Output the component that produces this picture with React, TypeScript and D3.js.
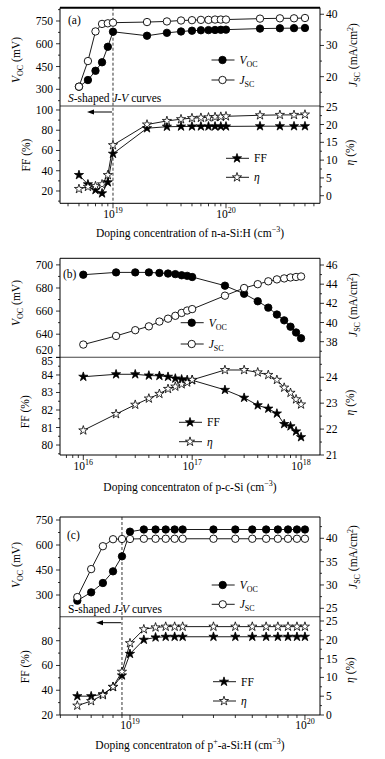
import React from "react";
import * as d3 from "d3";

// (a) doping of n-a-Si:H
const dopingA = [5e18, 6e18, 7e18, 8e18, 9e18, 1e19, 2e19, 3e19, 4e19, 5e19, 6e19, 7e19, 8e19, 9e19, 1e20, 2e20, 3e20, 4e20, 5e20];
const vocA = [317, 361, 422, 478, 580, 679, 653, 672, 681, 686, 689, 690, 691, 692, 693, 700, 702, 703, 704];
const jscA = [16.8, 25.0, 34.5, 36.9, 37.1, 37.3, 37.5, 37.7, 38.0, 38.1, 38.2, 38.2, 38.3, 38.3, 38.3, 38.6, 38.7, 38.7, 38.8];
const ffA = [35.8, 26.6, 21.0, 17.7, 28.6, 56.8, 82.0, 83.5, 83.7, 83.8, 83.8, 83.8, 83.8, 83.8, 83.8, 84.0, 84.0, 84.0, 84.0];
const etaA = [1.9, 2.5, 2.7, 3.2, 5.8, 14.2, 20.0, 21.0, 21.5, 21.8, 21.9, 22.0, 22.1, 22.2, 22.3, 22.6, 22.7, 22.7, 22.8];

// (b) doping of p-c-Si
const dopingB = [1e16, 2e16, 3e16, 4e16, 5e16, 6e16, 7e16, 8e16, 9e16, 1e17, 2e17, 3e17, 4e17, 5e17, 6e17, 7e17, 8e17, 9e17, 1e18];
const vocB = [691.5, 693.5, 693.5, 693.5, 693, 692.5, 692, 691, 690.5, 689.5, 682, 675, 668.5, 663, 657, 652, 646.5, 641.5, 636.5];
const jscB = [37.7, 38.6, 39.2, 39.6, 40.1, 40.4, 40.7, 41.0, 41.25, 41.4, 42.8, 43.6, 44.0, 44.3, 44.5, 44.6, 44.7, 44.75, 44.8];
const ffB = [83.9, 84.04, 84.04, 83.97, 83.95, 83.9, 83.8, 83.75, 83.72, 83.7, 83.15, 82.7, 82.27, 82.08, 81.8, 81.2, 81.07, 80.78, 80.45];
const etaB = [21.95, 22.58, 22.94, 23.18, 23.36, 23.55, 23.64, 23.73, 23.8, 23.9, 24.28, 24.28, 24.19, 24.09, 23.9, 23.6, 23.4, 23.15, 22.95];

// (c) doping of p+-a-Si:H
const dopingC = [5e18, 6e18, 7e18, 8e18, 9e18, 1e19, 1.2e19, 1.4e19, 1.6e19, 1.8e19, 2e19, 3e19, 4e19, 5e19, 6e19, 7e19, 8e19, 9e19, 1e20];
const vocC = [266, 316, 372, 442, 532, 680, 693, 693, 693, 693, 693, 693, 693, 693, 693, 693, 693, 693, 693];
const jscC = [27.4, 33.4, 38.3, 39.8, 39.85, 39.85, 39.9, 39.9, 39.9, 39.9, 39.9, 39.9, 39.9, 39.9, 39.9, 39.9, 39.9, 39.9, 39.9];
const ffC = [35.2, 35.2, 36.8, 42.6, 52.0, 69.4, 80.8, 82.7, 83.2, 83.2, 83.2, 83.2, 83.2, 83.2, 83.2, 83.2, 83.2, 83.2, 83.2];
const etaC = [2.5, 3.7, 5.3, 7.5, 11.5, 19.1, 22.8, 23.3, 23.5, 23.5, 23.5, 23.5, 23.5, 23.5, 23.5, 23.5, 23.5, 23.5, 23.5];

const FONT = "'Liberation Serif','Times New Roman',Times,serif";
const FS = 11.5;
const SUB = 8;
const X0 = 60;
const X1 = 320;

type Axis = { domain: [number, number]; major: number; minor: number; nudgeTop?: number; nudgeBottom?: number };
type Entry = { values: number[]; shape: "circle" | "star"; filled: boolean; label: React.ReactNode };
type SubCfg = {
  top: number;
  bottom: number;
  left: Axis;
  right: Axis;
  a: Entry;
  b: Entry;
  legendX: number;
  legendY: [number, number];
  leftTitle: React.ReactNode;
  leftTitleX: number;
  leftTitleY: number;
  rightTitle: React.ReactNode;
  rightTitleX: number;
  rightTitleY: number;
};

const VocLabel = (
  <>
    <tspan fontStyle="italic">V</tspan>
    <tspan fontSize={SUB} dy={3}>OC</tspan>
  </>
);
const JscLabel = (
  <>
    <tspan fontStyle="italic">J</tspan>
    <tspan fontSize={SUB} dy={3}>SC</tspan>
  </>
);
const VocTitle = (
  <>
    <tspan fontStyle="italic">V</tspan>
    <tspan fontSize={SUB} dy={3}>OC</tspan>
    <tspan dy={-3}> (mV)</tspan>
  </>
);
const JscTitle = (
  <>
    <tspan fontStyle="italic">J</tspan>
    <tspan fontSize={SUB} dy={3}>SC</tspan>
    <tspan dy={-3}> (mA/cm</tspan>
    <tspan fontSize={SUB} dy={-4}>2</tspan>
    <tspan dy={4}>)</tspan>
  </>
);
const EtaLabel = <tspan fontStyle="italic">η</tspan>;
const EtaTitle = (
  <>
    <tspan fontStyle="italic">η</tspan>
    <tspan> (%)</tspan>
  </>
);

function yTickList(ax: Axis) {
  const lo = Math.min(...ax.domain);
  const hi = Math.max(...ax.domain);
  const res: { v: number; major: boolean }[] = [];
  for (let k = Math.ceil(lo / ax.minor - 1e-6); k * ax.minor <= hi + 1e-6; k++) {
    const v = +(k * ax.minor).toFixed(4);
    const q = v / ax.major;
    res.push({ v, major: Math.abs(q - Math.round(q)) < 1e-6 });
  }
  return res;
}

function logTickList(dom: [number, number]) {
  const res: { v: number; e: number; major: boolean }[] = [];
  for (let e = Math.floor(Math.log10(dom[0])); e <= Math.ceil(Math.log10(dom[1])); e++) {
    for (let k = 1; k < 10; k++) {
      const v = k * Math.pow(10, e);
      if (v >= dom[0] && v <= dom[1]) res.push({ v, e, major: k === 1 });
    }
  }
  return res;
}

const starD = d3.symbol().type(d3.symbolStar).size(26)() as string;

function Marker({ shape, filled, cx, cy }: { shape: string; filled: boolean; cx: number; cy: number }) {
  const fill = filled ? "#000" : "#fff";
  if (shape === "circle") return <circle cx={cx} cy={cy} r={3.7} fill={fill} stroke="#000" strokeWidth={0.9} />;
  return <path d={starD} transform={`translate(${cx},${cy})`} fill={fill} stroke="#000" strokeWidth={0.8} />;
}

function SubPlot({ cfg, x, xs }: { cfg: SubCfg; x: d3.ScaleLogarithmic<number, number>; xs: number[] }) {
  const yL = d3.scaleLinear().domain(cfg.left.domain).range([cfg.bottom, cfg.top]);
  const yR = d3.scaleLinear().domain(cfg.right.domain).range([cfg.bottom, cfg.top]);
  const pathFor = (vals: number[], y: d3.ScaleLinear<number, number>) =>
    d3.line<number>().x((_, i) => x(xs[i])).y((d) => y(d))(vals) as string;

  const axisTicks = (ax: Axis, y: d3.ScaleLinear<number, number>, side: "left" | "right") =>
    yTickList(ax).map((t) => {
      const ty = y(t.v);
      const len = t.major ? 4 : 2;
      let ly = ty + 4;
      if (Math.abs(ty - cfg.top) < 1 && ax.nudgeTop) ly += ax.nudgeTop;
      if (Math.abs(ty - cfg.bottom) < 1 && ax.nudgeBottom) ly += ax.nudgeBottom;
      return (
        <g key={`${side}${t.v}`}>
          {side === "left" ? (
            <line x1={X0 - len} x2={X0} y1={ty} y2={ty} stroke="#000" strokeWidth={0.8} />
          ) : (
            <line x1={X1} x2={X1 + len} y1={ty} y2={ty} stroke="#000" strokeWidth={0.8} />
          )}
          {t.major && (
            <text x={side === "left" ? X0 - 7 : X1 + 6} y={ly} textAnchor={side === "left" ? "end" : "start"}>
              {t.v}
            </text>
          )}
        </g>
      );
    });

  const entries = [
    { e: cfg.a, y: yL },
    { e: cfg.b, y: yR },
  ];

  return (
    <g>
      {entries.map(({ e, y }, k) => (
        <g key={k}>
          <path d={pathFor(e.values, y)} fill="none" stroke="#000" strokeWidth={0.9} />
          {e.values.map((v, i) => (
            <Marker key={i} shape={e.shape} filled={e.filled} cx={x(xs[i])} cy={y(v)} />
          ))}
        </g>
      ))}
      {axisTicks(cfg.left, yL, "left")}
      {axisTicks(cfg.right, yR, "right")}
      {entries.map(({ e }, k) => {
        const ly = cfg.legendY[k];
        return (
          <g key={`lg${k}`}>
            <line x1={cfg.legendX - 11} x2={cfg.legendX + 12} y1={ly} y2={ly} stroke="#000" strokeWidth={0.9} />
            <Marker shape={e.shape} filled={e.filled} cx={cfg.legendX} cy={ly} />
            <text x={cfg.legendX + 17} y={ly + 4}>
              {e.label}
            </text>
          </g>
        );
      })}
      <text transform={`translate(${cfg.leftTitleX},${cfg.leftTitleY}) rotate(-90)`} textAnchor="middle">
        {cfg.leftTitle}
      </text>
      <text transform={`translate(${cfg.rightTitleX},${cfg.rightTitleY}) rotate(-90)`} textAnchor="middle">
        {cfg.rightTitle}
      </text>
    </g>
  );
}

type PanelCfg = {
  xs: number[];
  xDomain: [number, number];
  upper: SubCfg;
  lower: SubCfg;
  tag: string;
  tagX: number;
  tagY: number;
  topWidth: number;
  dashAt?: number;
  note?: React.ReactNode;
  noteY?: number;
  xTitle: React.ReactNode;
  xTitleY: number;
  tickLabelY: number;
};

function Panel({ cfg }: { cfg: PanelCfg }) {
  const x = d3.scaleLog().domain(cfg.xDomain).range([X0, X1]);
  const top = cfg.upper.top;
  const mid = cfg.upper.bottom;
  const bottom = cfg.lower.bottom;
  const dx = cfg.dashAt !== undefined ? x(cfg.dashAt) : 0;
  return (
    <g>
      {cfg.dashAt !== undefined && (
        <line x1={dx} x2={dx} y1={top} y2={bottom} stroke="#000" strokeWidth={0.8} strokeDasharray="3,2" />
      )}
      <SubPlot cfg={cfg.upper} x={x} xs={cfg.xs} />
      <SubPlot cfg={cfg.lower} x={x} xs={cfg.xs} />
      {/* frame */}
      <line x1={X0} x2={X1} y1={top} y2={top} stroke="#000" strokeWidth={cfg.topWidth} />
      <line x1={X0} x2={X1} y1={mid} y2={mid} stroke="#444" strokeWidth={1.1} />
      <line x1={X0} x2={X1} y1={bottom} y2={bottom} stroke="#000" strokeWidth={1} />
      <line x1={X0} x2={X0} y1={top} y2={bottom} stroke="#000" strokeWidth={1} />
      <line x1={X1} x2={X1} y1={top} y2={bottom} stroke="#000" strokeWidth={1} />
      {logTickList(cfg.xDomain).map((t) => (
        <g key={t.v}>
          <line x1={x(t.v)} x2={x(t.v)} y1={bottom} y2={bottom + (t.major ? 5 : 3)} stroke="#000" strokeWidth={0.8} />
          {t.major && (
            <text x={x(t.v)} y={cfg.tickLabelY} textAnchor="middle">
              <tspan>10</tspan>
              <tspan fontSize={SUB} dy={-5}>
                {t.e}
              </tspan>
            </text>
          )}
        </g>
      ))}
      <text x={cfg.tagX} y={cfg.tagY}>
        {cfg.tag}
      </text>
      {cfg.note && cfg.dashAt !== undefined && (
        <g>
          <text x={X0 + 8} y={cfg.noteY}>
            {cfg.note}
          </text>
          <line x1={dx - 1} x2={dx - 20} y1={mid + 6} y2={mid + 6} stroke="#000" strokeWidth={1} />
          <path d={`M${dx - 26},${mid + 6} L${dx - 19},${mid + 3.5} L${dx - 19},${mid + 8.5} Z`} fill="#000" />
        </g>
      )}
      <text x={(X0 + X1) / 2 + 0} y={cfg.xTitleY} textAnchor="middle">
        {cfg.xTitle}
      </text>
    </g>
  );
}

const cm3 = (
  <>
    <tspan> (cm</tspan>
    <tspan fontSize={SUB} dy={-5}>−3</tspan>
    <tspan dy={5}>)</tspan>
  </>
);

const panelA: PanelCfg = {
  xs: dopingA,
  xDomain: [Math.pow(10, 18.531), Math.pow(10, 20.832)],
  tag: "(a)",
  tagX: 68,
  tagY: 24,
  topWidth: 2,
  dashAt: 1e19,
  note: (
    <>
      <tspan fontStyle="italic">S</tspan>-shaped <tspan fontStyle="italic">J</tspan>-<tspan fontStyle="italic">V</tspan> curves
    </>
  ),
  noteY: 101.5,
  xTitle: <>Doping concentration of n-a-Si:H{cm3}</>,
  xTitleY: 237,
  tickLabelY: 218,
  upper: {
    top: 7.7,
    bottom: 106,
    left: { domain: [190, 837.6], major: 150, minor: 75 },
    right: { domain: [10.6, 42.1], major: 10, minor: 5 },
    a: { values: vocA, shape: "circle", filled: true, label: VocLabel },
    b: { values: jscA, shape: "circle", filled: false, label: JscLabel },
    legendX: 222.5,
    legendY: [60, 80],
    leftTitle: VocTitle,
    leftTitleX: 20,
    leftTitleY: 60,
    rightTitle: JscTitle,
    rightTitleX: 357,
    rightTitleY: 55,
  },
  lower: {
    top: 106,
    bottom: 203.3,
    left: { domain: [7.85, 103.95], major: 20, minor: 10 },
    right: { domain: [-2.13, 25.2], major: 5, minor: 2.5 },
    a: { values: ffA, shape: "star", filled: true, label: "FF" },
    b: { values: etaA, shape: "star", filled: false, label: EtaLabel },
    legendX: 237,
    legendY: [158.3, 177.3],
    leftTitle: "FF (%)",
    leftTitleX: 30,
    leftTitleY: 155,
    rightTitle: EtaTitle,
    rightTitleX: 354,
    rightTitleY: 152.5,
  },
};

const panelB: PanelCfg = {
  xs: dopingB,
  xDomain: [Math.pow(10, 15.786), Math.pow(10, 18.174)],
  tag: "(b)",
  tagX: 63,
  tagY: 278,
  topWidth: 1,
  xTitle: <>Doping concentraton of p-c-Si{cm3}</>,
  xTitleY: 491,
  tickLabelY: 470,
  upper: {
    top: 258.3,
    bottom: 357.3,
    left: { domain: [620, 705.7], major: 20, minor: 10, nudgeBottom: -7 },
    right: { domain: [36.37, 46.7], major: 2, minor: 1 },
    a: { values: vocB, shape: "circle", filled: true, label: VocLabel },
    b: { values: jscB, shape: "circle", filled: false, label: JscLabel },
    legendX: 191.7,
    legendY: [322.7, 344],
    leftTitle: VocTitle,
    leftTitleX: 20,
    leftTitleY: 303,
    rightTitle: JscTitle,
    rightTitleX: 357,
    rightTitleY: 305,
  },
  lower: {
    top: 357.3,
    bottom: 455,
    left: { domain: [79.43, 85.01], major: 1, minor: 0.5, nudgeTop: 4 },
    right: { domain: [21, 24.77], major: 1, minor: 0.5 },
    a: { values: ffB, shape: "star", filled: true, label: "FF" },
    b: { values: etaB, shape: "star", filled: false, label: EtaLabel },
    legendX: 190,
    legendY: [422.3, 441.7],
    leftTitle: "FF (%)",
    leftTitleX: 29,
    leftTitleY: 411.7,
    rightTitle: EtaTitle,
    rightTitleX: 354,
    rightTitleY: 402.5,
  },
};

const panelC: PanelCfg = {
  xs: dopingC,
  xDomain: [Math.pow(10, 18.6), Math.pow(10, 20.086)],
  tag: "(c)",
  tagX: 67,
  tagY: 539,
  topWidth: 1,
  dashAt: 9e18,
  note: (
    <>
      S-shaped <tspan fontStyle="italic">J</tspan>-<tspan fontStyle="italic">V</tspan> curves
    </>
  ),
  noteY: 612.7,
  xTitle: (
    <>
      Doping concentraton of p<tspan fontSize={SUB} dy={-5}>+</tspan>
      <tspan dy={5}>-a-Si:H</tspan>
      {cm3}
    </>
  ),
  xTitleY: 749,
  tickLabelY: 729,
  upper: {
    top: 517,
    bottom: 616.7,
    left: { domain: [169.8, 768], major: 150, minor: 75 },
    right: { domain: [23.2, 44.56], major: 5, minor: 2.5 },
    a: { values: vocC, shape: "circle", filled: true, label: VocLabel },
    b: { values: jscC, shape: "circle", filled: false, label: JscLabel },
    legendX: 222.7,
    legendY: [585, 604.3],
    leftTitle: VocTitle,
    leftTitleX: 20,
    leftTitleY: 565,
    rightTitle: JscTitle,
    rightTitleX: 357,
    rightTitleY: 557,
  },
  lower: {
    top: 616.7,
    bottom: 715,
    left: { domain: [20, 99.4], major: 20, minor: 10 },
    right: { domain: [0, 26.14], major: 5, minor: 2.5 },
    a: { values: ffC, shape: "star", filled: true, label: "FF" },
    b: { values: etaC, shape: "star", filled: false, label: EtaLabel },
    legendX: 224,
    legendY: [681.7, 701],
    leftTitle: "FF (%)",
    leftTitleX: 29,
    leftTitleY: 666.7,
    rightTitle: EtaTitle,
    rightTitleX: 354,
    rightTitleY: 670,
  },
};

export default function App() {
  return (
    <svg
      width={385}
      height={759}
      style={{ position: "absolute", left: 0, top: 0, display: "block", background: "#fff" }}
      fontFamily={FONT}
      fontSize={FS}
      fill="#000"
    >
      <rect width={385} height={759} fill="#fff" />
      <Panel cfg={panelA} />
      <Panel cfg={panelB} />
      <Panel cfg={panelC} />
    </svg>
  );
}
